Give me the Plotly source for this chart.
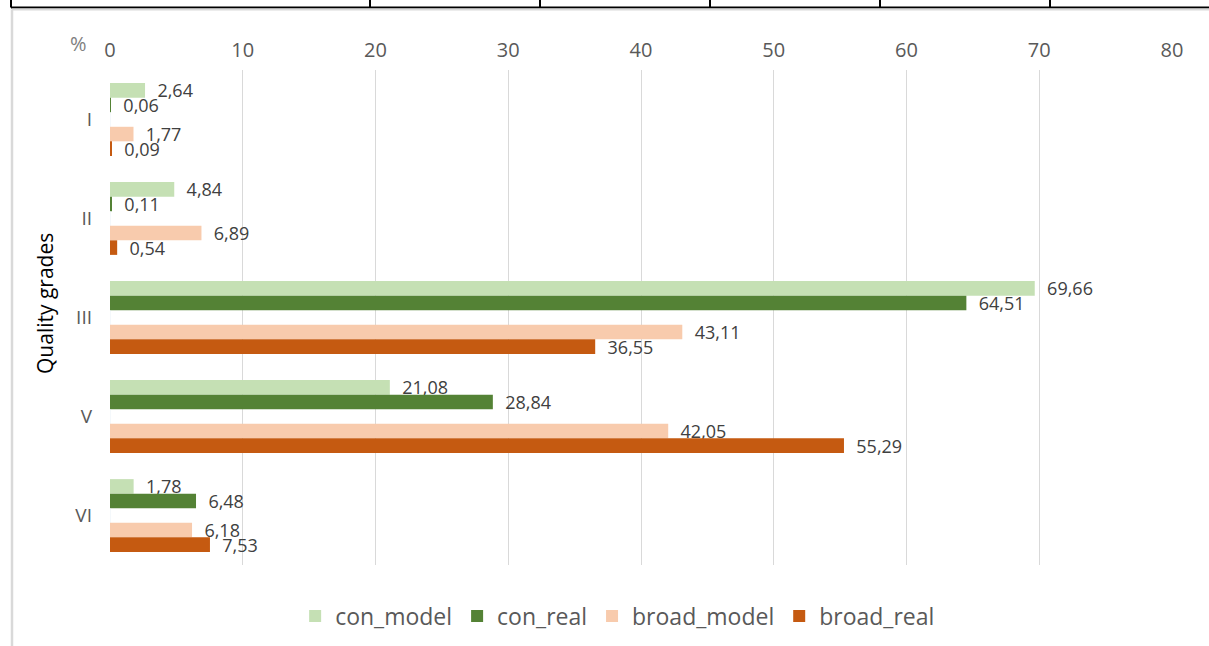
import plotly.graph_objects as go

grades = ["I", "II", "III", "V", "VI"]
con_model = [2.64, 4.84, 69.66, 21.08, 1.78]
con_real = [0.06, 0.11, 64.51, 28.84, 6.48]
broad_model = [1.77, 6.89, 43.11, 42.05, 6.18]
broad_real = [0.09, 0.54, 36.55, 55.29, 7.53]

x_ticks = list(range(0, 81, 10))
table_dividers_px = [11, 370, 540, 710, 880, 1050]

W, H = 1209, 646
L, R, T, B = 110, 37, 70, 81
PW, PH = W - L - R, H - T - B


def px_x(px):
    return (px - L) / PW


def px_y(py):
    return (H - B - py) / PH


FONT = "Open Sans, Calibri, sans-serif"
LABEL_COLOR = "#404040"

series = [
    ("con_model", con_model, "#C5E0B4"),
    ("con_real", con_real, "#548235"),
    (None, [0] * len(grades), "rgba(0,0,0,0)"),
    ("broad_model", broad_model, "#F8CBAD"),
    ("broad_real", broad_real, "#C55A11"),
]

fig = go.Figure()
for name, vals, color in series:
    if name is None:
        fig.add_trace(go.Bar(
            y=grades, x=vals, orientation="h", showlegend=False,
            marker=dict(color=color), hoverinfo="skip",
        ))
        continue
    fig.add_trace(go.Bar(
        y=grades, x=vals, orientation="h", name=name,
        marker=dict(color=color, line=dict(width=0)),
        texttemplate="  %{x:.2f}", textposition="outside",
        constraintext="none", cliponaxis=False,
        textfont=dict(family=FONT, size=18, color=LABEL_COLOR),
    ))

shapes = []
# table fragment at the top
shapes.append(dict(type="line", xref="paper", yref="paper",
                   x0=px_x(11), x1=px_x(1209), y0=px_y(7.5), y1=px_y(7.5),
                   line=dict(color="black", width=2)))
for d in table_dividers_px:
    shapes.append(dict(type="line", xref="paper", yref="paper",
                       x0=px_x(d), x1=px_x(d), y0=px_y(0), y1=px_y(7.5),
                       line=dict(color="black", width=2)))
# chart area border (top and left)
shapes.append(dict(type="line", xref="paper", yref="paper",
                   x0=px_x(12), x1=px_x(1209), y0=px_y(9.5), y1=px_y(9.5),
                   line=dict(color="#d9d9d9", width=2)))
shapes.append(dict(type="line", xref="paper", yref="paper",
                   x0=px_x(12), x1=px_x(12), y0=px_y(9.5), y1=px_y(646),
                   line=dict(color="#d9d9d9", width=2.5)))

fig.update_layout(
    width=W, height=H,
    margin=dict(l=L, r=R, t=T, b=B, autoexpand=False),
    paper_bgcolor="white", plot_bgcolor="white",
    barmode="group", bargap=0.265, bargroupgap=0,
    separators=", ",
    font=dict(family=FONT, color="#595959"),
    shapes=shapes,
    legend=dict(orientation="h", x=0.478, xanchor="center", y=px_y(616), yanchor="middle",
                font=dict(family=FONT, size=23, color="#595959"),
                itemwidth=30, tracegroupgap=0, traceorder="normal"),
    annotations=[
        dict(text="%", xref="paper", yref="paper", x=px_x(89), y=px_y(43),
             xanchor="right", yanchor="middle", showarrow=False,
             font=dict(family=FONT, size=20, color="#808080")),
        dict(text="Quality grades", xref="paper", yref="paper", x=px_x(45), y=px_y(304),
             xanchor="center", yanchor="middle", showarrow=False, textangle=-90,
             font=dict(family=FONT, size=21, color="black")),
    ],
    xaxis=dict(side="top", range=[0, 80], tickvals=x_ticks,
               showgrid=True, gridcolor="#d9d9d9", gridwidth=1,
               zeroline=False, showline=False, ticks="",
               tickfont=dict(family=FONT, size=20, color="#595959"),
               ticklabelstandoff=8),
    yaxis=dict(categoryorder="array", categoryarray=grades, autorange="reversed",
               showgrid=False, zeroline=False, showline=False, ticks="",
               tickfont=dict(family=FONT, size=19, color="#595959"),
               ticklabelstandoff=17),
)

fig.write_html("out.html")
